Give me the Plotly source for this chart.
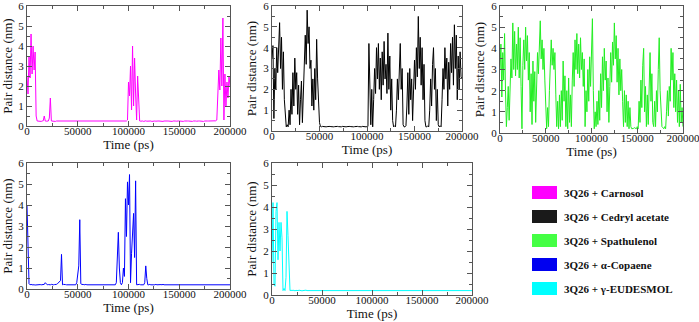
import plotly.graph_objects as go

W, H = 699, 322

# sampling grid of the trajectories (ps)
TIME_PS = list(range(0, 200001, 1000))

CARNOSOL = [
    2.5, 1.6, 3.5, 2.4, 4.6, 2.6, 4.0, 2.8, 3.7, 0.5,
    0.25, 0.24, 0.26, 0.25, 0.23, 0.25, 0.26, 0.5, 0.25, 0.24,
    0.26, 0.25, 0.4, 1.4, 0.25, 0.24, 0.26, 0.25, 0.23, 0.25,
    0.25, 0.24, 0.26, 0.25, 0.23, 0.25, 0.26, 0.24, 0.25, 0.25,
    0.24, 0.26, 0.25, 0.23, 0.25, 0.26, 0.25, 0.24, 0.26, 0.25,
    0.25, 0.24, 0.26, 0.25, 0.23, 0.25, 0.26, 0.24, 0.25, 0.25,
    0.24, 0.26, 0.25, 0.23, 0.25, 0.26, 0.25, 0.24, 0.26, 0.25,
    0.25, 0.24, 0.26, 0.25, 0.23, 0.25, 0.26, 0.24, 0.25, 0.25,
    0.24, 0.26, 0.25, 0.23, 0.25, 0.26, 0.25, 0.24, 0.26, 0.25,
    0.25, 0.24, 0.26, 0.25, 0.23, 0.25, 0.26, 0.24, 0.25, 0.3,
    2.2, 1.5, 3.0, 0.8, 4.0, 1.0, 3.4, 1.6, 0.3, 2.5,
    1.2, 0.25, 0.24, 0.26, 0.25, 0.23, 0.25, 0.26, 0.24, 0.25,
    0.24, 0.26, 0.25, 0.23, 0.25, 0.26, 0.25, 0.24, 0.26, 0.25,
    0.25, 0.24, 0.26, 0.25, 0.23, 0.25, 0.26, 0.24, 0.25, 0.25,
    0.24, 0.26, 0.25, 0.23, 0.25, 0.26, 0.25, 0.24, 0.26, 0.25,
    0.25, 0.24, 0.26, 0.25, 0.23, 0.25, 0.26, 0.24, 0.25, 0.25,
    0.24, 0.26, 0.25, 0.23, 0.25, 0.26, 0.25, 0.24, 0.26, 0.25,
    0.25, 0.24, 0.26, 0.25, 0.23, 0.25, 0.26, 0.24, 0.25, 0.25,
    0.25, 0.24, 0.26, 0.25, 0.23, 0.25, 0.26, 0.3, 1.6, 2.8,
    1.8, 4.4, 2.0, 5.4, 0.3, 2.6, 1.0, 2.2, 1.4, 2.5,
    2.0,
]

CEDRYL_ACETATE = [
    3.5, 4.1, 0.6, 3.0, 2.0, 4.0, 2.8, 4.6, 5.2, 3.0,
    4.5, 2.0, 3.8, 1.5, 0.6, 0.2, 0.3, 0.2, 1.0, 0.3,
    2.0, 0.8, 2.8, 1.2, 3.5, 2.0, 2.8, 0.8, 2.2, 0.3,
    1.5, 2.4, 0.4, 2.0, 3.8, 4.6, 3.2, 5.8, 4.2, 5.0,
    3.0, 3.4, 1.2, 2.5, 1.0, 3.0, 1.5, 4.4, 2.5, 1.0,
    0.4, 0.22, 0.2, 0.22, 0.21, 0.2, 0.22, 0.2, 0.21, 0.22,
    0.2, 0.22, 0.21, 0.2, 0.22, 0.2, 0.21, 0.22, 0.2, 0.22,
    0.21, 0.2, 0.22, 0.2, 0.22, 0.21, 0.2, 0.22, 0.2, 0.21,
    0.22, 0.2, 0.22, 0.21, 0.2, 0.22, 0.2, 0.21, 0.22, 0.2,
    0.22, 0.21, 0.2, 0.22, 0.2, 0.22, 0.21, 0.2, 0.22, 0.2,
    0.21, 0.22, 4.2, 1.5, 0.3, 2.0, 0.2, 1.5, 3.0, 1.8,
    4.0, 2.5, 4.2, 2.0, 3.5, 1.5, 3.8, 2.2, 4.3, 2.5,
    3.2, 1.8, 4.7, 2.0, 3.6, 1.0, 2.5, 0.5, 0.2, 0.25,
    0.2, 1.0, 2.5, 1.5, 3.5, 4.2, 2.0, 3.0, 0.3, 0.2,
    0.2, 0.25, 1.2, 2.8, 0.8, 3.0, 1.5, 2.5, 0.5, 2.2,
    3.4, 2.0, 4.0, 2.6, 5.5, 3.0, 4.5, 2.2, 4.0, 1.5,
    3.2, 0.5, 0.2, 0.2, 0.25, 0.2, 1.0, 2.5, 1.2, 3.2,
    4.0, 2.0, 3.0, 0.5, 2.0, 0.3, 0.2, 0.25, 0.2, 1.5,
    3.0, 2.0, 4.0, 2.5, 3.5, 1.2, 3.3, 2.0, 4.2, 2.8,
    4.5, 2.2, 5.1, 3.0, 4.6, 1.5, 3.6, 2.0, 3.8, 2.6,
    2.5,
]

SPATHULENOL = [
    3.0, 4.2, 1.7, 3.8, 2.5, 4.7, 2.0, 0.3, 1.2, 2.2,
    0.6, 2.0, 3.5, 2.6, 5.2, 3.0, 4.8, 2.7, 4.2, 3.0,
    5.0, 2.6, 4.5, 2.2, 0.2, 3.2, 4.4, 3.0, 5.0, 3.4,
    4.6, 2.5, 3.8, 1.0, 2.8, 0.4, 3.4, 1.5, 2.9, 0.5,
    2.4, 3.8, 2.8, 4.6, 5.3, 3.5, 4.4, 3.0, 4.0, 2.5,
    1.4, 0.2, 1.2, 0.3, 2.0, 3.6, 4.4, 3.2, 4.0, 3.0,
    3.8, 1.8, 0.3, 1.5, 0.2, 1.8, 0.3, 2.0, 0.6, 3.4,
    1.5, 2.7, 0.3, 2.0, 0.2, 2.6, 0.5, 1.8, 0.3, 2.5,
    3.8, 2.2, 4.4, 3.0, 4.7, 2.8, 4.2, 2.6, 4.5, 3.0,
    3.8, 2.2, 3.5, 0.3, 2.0, 1.0, 3.0, 1.5, 3.6, 2.2,
    4.0, 5.4, 2.0, 0.2, 1.0, 0.3, 1.5, 0.4, 2.0, 0.6,
    2.8, 1.2, 3.6, 2.0, 4.0, 2.5, 3.4, 1.0, 2.6, 0.5,
    2.2, 3.8, 2.4, 4.3, 3.2, 5.2, 3.5, 4.6, 2.4, 4.0,
    1.8, 3.5, 2.0, 3.0, 1.5, 0.3, 2.0, 0.5, 1.8, 0.3,
    1.5, 0.2, 1.2, 0.3, 0.2, 0.2, 0.22, 0.25, 0.2, 0.2,
    0.3, 0.2, 1.5, 0.5, 2.5, 1.2, 3.2, 4.0, 1.0, 2.2,
    0.3, 1.8, 0.4, 2.0, 3.8, 1.5, 2.8, 0.5, 0.3, 1.5,
    0.3, 2.0, 1.0, 3.0, 4.5, 2.0, 1.2, 0.3, 0.25, 0.2,
    0.3, 0.2, 1.0, 2.0, 0.8, 2.2, 1.5, 4.0, 2.5, 3.8,
    1.2, 2.8, 1.0, 2.5, 0.5, 2.0, 0.3, 2.3, 0.5, 1.2,
    0.3,
]

ALPHA_COPAENE = [
    4.0, 2.3, 0.25, 0.2, 0.22, 0.2, 0.21, 0.2, 0.19, 0.2,
    0.2, 0.22, 0.2, 0.21, 0.2, 0.2, 0.19, 0.22, 0.3, 0.22,
    0.2, 0.21, 0.2, 0.2, 0.22, 0.19, 0.2, 0.21, 0.2, 0.22,
    0.25, 0.3, 0.35, 0.4, 1.65, 0.2, 0.22, 0.2, 0.21, 0.2,
    0.2, 0.22, 0.19, 0.2, 0.21, 0.2, 0.2, 0.22, 0.2, 0.3,
    0.8, 1.1, 3.3, 0.25, 0.22, 0.2, 0.21, 0.2, 0.22, 0.2,
    0.2, 0.22, 0.2, 0.19, 0.21, 0.2, 0.2, 0.22, 0.2, 0.21,
    0.19, 0.2, 0.21, 0.2, 0.22, 0.2, 0.2, 0.19, 0.21, 0.2,
    0.22, 0.2, 0.19, 0.21, 0.2, 0.2, 0.22, 0.2, 0.3, 1.4,
    2.7, 1.0, 0.3, 0.2, 0.3, 1.0, 0.6, 4.3, 2.5, 5.1,
    4.0, 5.45, 0.3, 1.7, 2.6, 3.6, 1.5, 5.15, 0.2, 0.21,
    0.2, 0.22, 0.2, 0.2, 0.21, 0.2, 0.3, 1.1, 0.5, 0.2,
    0.2, 0.22, 0.2, 0.19, 0.21, 0.2, 0.2, 0.22, 0.2, 0.21,
    0.19, 0.2, 0.21, 0.2, 0.22, 0.2, 0.2, 0.19, 0.21, 0.2,
    0.22, 0.2, 0.21, 0.2, 0.19, 0.2, 0.22, 0.2, 0.21, 0.2,
    0.2, 0.22, 0.2, 0.19, 0.21, 0.2, 0.2, 0.22, 0.2, 0.21,
    0.19, 0.2, 0.21, 0.2, 0.22, 0.2, 0.2, 0.19, 0.21, 0.2,
    0.22, 0.2, 0.21, 0.2, 0.19, 0.2, 0.22, 0.2, 0.21, 0.2,
    0.2, 0.22, 0.2, 0.19, 0.21, 0.2, 0.2, 0.22, 0.2, 0.21,
    0.19, 0.2, 0.21, 0.2, 0.22, 0.2, 0.2, 0.19, 0.21, 0.2,
    0.2,
]

GAMMA_EUDESMOL = [
    1.5, 4.2, 0.5, 0.4, 3.8, 4.2, 1.6, 3.3, 2.0, 3.3,
    2.6, 0.2, 0.3, 0.2, 0.8, 3.8, 2.7, 0.7, 0.2, 0.22,
    0.2, 0.22, 0.2, 0.19, 0.21, 0.2, 0.2, 0.22, 0.2, 0.21,
    0.19, 0.2, 0.21, 0.2, 0.22, 0.2, 0.2, 0.19, 0.21, 0.2,
    0.22, 0.2, 0.21, 0.2, 0.19, 0.2, 0.22, 0.2, 0.21, 0.2,
    0.2, 0.22, 0.2, 0.19, 0.21, 0.2, 0.2, 0.22, 0.2, 0.21,
    0.19, 0.2, 0.21, 0.2, 0.22, 0.2, 0.2, 0.19, 0.21, 0.2,
    0.22, 0.2, 0.21, 0.2, 0.19, 0.2, 0.22, 0.2, 0.21, 0.2,
    0.2, 0.22, 0.2, 0.19, 0.21, 0.2, 0.2, 0.22, 0.2, 0.21,
    0.19, 0.2, 0.21, 0.2, 0.22, 0.2, 0.2, 0.19, 0.21, 0.2,
    0.22, 0.2, 0.21, 0.2, 0.19, 0.2, 0.22, 0.2, 0.21, 0.2,
    0.2, 0.22, 0.2, 0.19, 0.21, 0.2, 0.2, 0.22, 0.2, 0.21,
    0.19, 0.2, 0.21, 0.2, 0.22, 0.2, 0.2, 0.19, 0.21, 0.2,
    0.22, 0.2, 0.21, 0.2, 0.19, 0.2, 0.22, 0.2, 0.21, 0.2,
    0.2, 0.22, 0.2, 0.19, 0.21, 0.2, 0.2, 0.22, 0.2, 0.21,
    0.19, 0.2, 0.21, 0.2, 0.22, 0.2, 0.2, 0.19, 0.21, 0.2,
    0.22, 0.2, 0.21, 0.2, 0.19, 0.2, 0.22, 0.2, 0.21, 0.2,
    0.2, 0.22, 0.2, 0.19, 0.21, 0.2, 0.2, 0.22, 0.2, 0.21,
    0.19, 0.2, 0.21, 0.2, 0.22, 0.2, 0.2, 0.19, 0.21, 0.2,
    0.22, 0.2, 0.21, 0.2, 0.19, 0.2, 0.22, 0.2, 0.21, 0.2,
    0.2,
]

LABELS = ["3Q26 + Carnosol", "3Q26 + Cedryl acetate", "3Q26 + Spathulenol",
          "3Q26 + \u03b1-Copaene", "3Q26 + \u03b3-EUDESMOL"]
SERIES = [CARNOSOL, CEDRYL_ACETATE, SPATHULENOL, ALPHA_COPAENE, GAMMA_EUDESMOL]
LINE_COLORS = ["#ff00ff", "#000000", "#22ee22", "#0000ff", "#00ffff"]
BOX_COLORS = ["#ff00ff", "#1a1a1a", "#44ff44", "#0000f0", "#00ffff"]

X_TICKS = [0, 50000, 100000, 150000, 200000]
X_TICK_TEXT = ["0", "50000", "100000", "150000", "200000"]
Y_TICKS = [0, 1, 2, 3, 4, 5, 6]
Y_TICK_TEXT = ["0", "1", "2", "3", "4", "5", "6"]

# panel boxes in pixels: (left, right, top, bottom)
PANELS = [(27, 230, 6, 126), (272, 462, 6, 131), (500, 683, 6, 133),
          (27, 230, 163, 289), (272, 472, 163, 295)]

FONT = "Liberation Serif, Times New Roman, serif"
fig = go.Figure()
layout = dict(
    width=W, height=H, autosize=False,
    margin=dict(l=0, r=0, t=0, b=0, pad=0),
    paper_bgcolor="white", plot_bgcolor="white",
    showlegend=False, font=dict(family=FONT, color="#111"),
)

for i, (vals, col) in enumerate(zip(SERIES, LINE_COLORS)):
    n = i + 1
    sfx = "" if n == 1 else str(n)
    fig.add_trace(go.Scatter(x=TIME_PS, y=vals, mode="lines",
                             line=dict(color=col, width=1),
                             xaxis="x" + sfx, yaxis="y" + sfx, name=LABELS[i]))
    l, r, t, b = PANELS[i]
    common = dict(showline=True, linecolor="#555", linewidth=1, mirror="allticks",
                  ticks="inside", ticklen=5, tickcolor="#555", tickwidth=1,
                  showgrid=False, zeroline=False, automargin=False,
                  ticklabeloverflow="allow",
                  tickfont=dict(family=FONT, size=11, color="#111"))
    layout["xaxis" + sfx] = dict(
        common, domain=[l / W, r / W], anchor="y" + sfx, range=[0, 200000],
        tickmode="array", tickvals=X_TICKS, ticktext=X_TICK_TEXT,
        ticklabelstandoff=-5,
        minor=dict(ticks="inside", ticklen=3, tickcolor="#555", dtick=25000, tick0=0),
        title=dict(text="Time (ps)", font=dict(family=FONT, size=13, color="#111"), standoff=2),
    )
    layout["yaxis" + sfx] = dict(
        common, domain=[1 - b / H, 1 - t / H], anchor="x" + sfx, range=[0, 6],
        tickmode="array", tickvals=Y_TICKS, ticktext=Y_TICK_TEXT,
        minor=dict(ticks="inside", ticklen=3, tickcolor="#555", dtick=0.5, tick0=0),
        title=dict(text="Pair distance (nm)", font=dict(family=FONT, size=13, color="#111"), standoff=3),
    )

shapes, annotations = [], []
for k, (lab, bc) in enumerate(zip(LABELS, BOX_COLORS)):
    yc = 192.5 + 24 * k
    shapes.append(dict(type="rect", xref="paper", yref="paper",
                       x0=532 / W, x1=557 / W, y0=1 - (yc + 6.5) / H, y1=1 - (yc - 6.5) / H,
                       fillcolor=bc, line=dict(width=0)))
    annotations.append(dict(xref="paper", yref="paper", x=562 / W, y=1 - yc / H,
                            xanchor="left", yanchor="middle", showarrow=False,
                            text="<b>" + lab + "</b>",
                            font=dict(family=FONT, size=11, color="#111")))
layout["shapes"] = shapes
layout["annotations"] = annotations
fig.update_layout(**layout)
fig.write_html("out.html", config={"displayModeBar": False})
